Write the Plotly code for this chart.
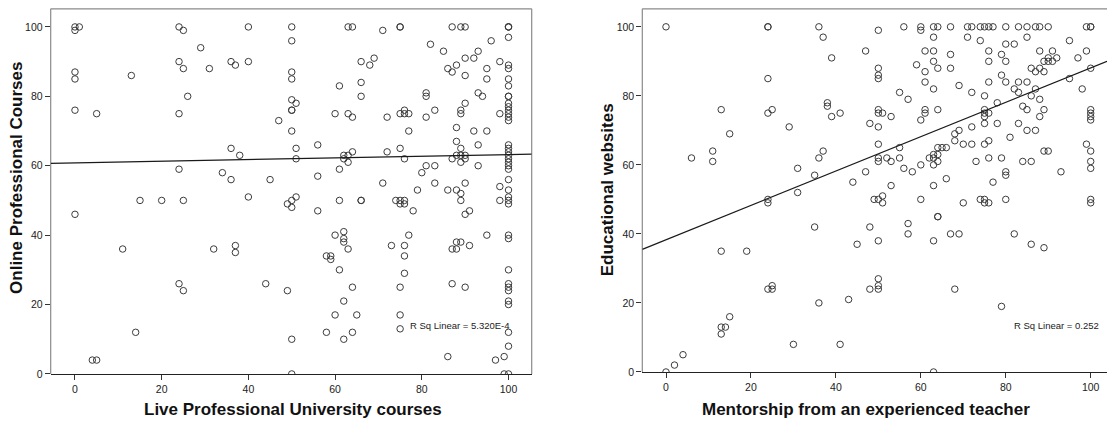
import plotly.graph_objects as go

# ---- Left panel: Live Professional University courses vs Online Professional Courses
live_courses = (
    [0, 0, 1, 0, 0, 0, 0, 5, 13, 24, 25, 29, 24, 25, 31, 26, 24, 36, 37, 40, 40, 47, 36, 38, 24, 34, 36, 45,
     15, 20, 25, 40, 49, 11, 32, 37, 37, 24, 25, 44, 49, 14, 4, 5, 50]
    + [50, 50, 50, 50, 50, 50, 50, 50, 51, 51, 51, 50, 51, 50]
    + [56, 56, 61, 61, 61, 60, 62, 63, 64, 62, 63, 63, 64, 63, 64, 66, 68, 69, 66, 66, 66, 66, 71, 75, 75, 72,
       72, 71, 75, 76, 76, 77, 77, 75, 76, 74, 75, 76, 75, 76]
    + [81, 81, 83, 81, 81, 83, 80, 79, 83, 82, 85, 87, 89, 90, 86, 87, 88, 90, 92, 93, 96, 98, 90, 95, 95, 93,
       94, 90, 89, 89, 88, 92, 95, 88, 93, 89, 88, 89, 90, 87, 89, 90, 93, 86, 88, 89, 90, 89, 98, 98, 98]
    + [100] * 40
    + [56, 78, 90, 91, 62, 60, 62, 62, 63, 58, 59, 59, 61, 64, 62, 60, 65, 58, 64, 62, 50, 77, 73, 76, 76, 76,
       75, 75, 75, 88, 89, 87, 88, 91, 95, 87, 90, 86, 97, 99, 99]
)
online_courses = (
    [100, 99, 100, 87, 85, 76, 46, 75, 86, 100, 99, 94, 90, 88, 88, 80, 75, 90, 89, 100, 90, 73, 65, 63, 59, 58,
     56, 56, 50, 50, 50, 51, 49, 36, 36, 37, 35, 26, 24, 26, 24, 12, 4, 4, 10]
    + [100, 96, 87, 85, 79, 76, 76, 70, 78, 65, 62, 50, 51, 48]
    + [66, 57, 83, 59, 50, 75, 63, 63, 64, 62, 61, 75, 74, 100, 100, 90, 89, 91, 84, 80, 50, 50, 99, 100, 100,
       74, 64, 55, 75, 76, 75, 75, 70, 65, 62, 50, 50, 50, 49, 49]
    + [81, 80, 76, 74, 60, 60, 58, 53, 55, 95, 93, 100, 100, 100, 88, 87, 89, 91, 91, 93, 96, 90, 86, 88, 85, 81,
       80, 78, 76, 75, 71, 70, 70, 67, 66, 65, 63, 63, 63, 62, 61, 62, 60, 53, 53, 52, 55, 50, 75, 54, 50]
    + [100, 100, 100, 97, 89, 88, 85, 83, 80, 80, 78, 77, 76, 75, 74, 73, 66, 65, 64, 63, 62, 61, 60, 59, 56, 53,
       51, 50, 49, 40, 39, 30, 26, 25, 24, 21, 20, 12, 8, 0]
    + [47, 47, 46, 47, 41, 40, 39, 38, 36, 34, 34, 33, 30, 25, 21, 17, 17, 12, 12, 10, 0, 40, 37, 37, 34, 29,
       25, 17, 13, 38, 38, 36, 36, 37, 40, 26, 25, 5, 4, 5, 0]
)
left_fit = (60.83, 0.0239)          # intercept, slope of the linear fit
left_rsq = "R Sq Linear = 5.320E-4"

# ---- Right panel: Mentorship from an experienced teacher vs Educational websites
mentorship = (
    [0, 6, 11, 11, 13, 15, 24, 24, 24, 24, 25, 29, 24, 24, 31, 31, 35, 36, 37, 39, 38, 38, 39, 41, 37, 36, 13,
     19, 35, 24, 25, 25, 36, 43, 15, 13, 14, 13, 30, 41, 4, 2, 0]
    + [50, 56, 60, 60, 63, 64, 67, 71, 72, 63, 71, 47, 61, 63, 67, 63, 59, 61, 64, 67, 50, 50, 50, 61, 69, 63,
       72, 55, 57, 50, 50, 51, 53, 61, 61, 64]
    + [74, 75, 76, 77, 80, 83, 85, 87, 88, 90, 99, 100, 100, 74, 85, 95, 80, 82, 76, 88, 91, 99, 79, 76, 80, 89,
       90, 91, 90, 92, 97, 86, 88, 87, 89, 79, 76, 80, 83, 85, 82, 87, 98, 83, 75, 86, 88, 78, 84, 85, 75, 75,
       76, 89, 100, 100, 100, 88, 100, 95]
    + [60, 48, 50, 68, 69, 68, 72, 70, 72, 50, 55, 64, 65, 66, 50, 50, 52, 53, 55, 62, 63, 63, 64, 64, 63, 60,
       56, 58, 47, 44, 53, 63, 66, 49, 50, 51, 51, 60, 70]
    + [75, 100, 75, 78, 83, 85, 87, 81, 75, 76, 89, 90, 99, 100, 73, 76, 79, 84, 86, 100, 100, 80, 80, 93, 77,
       74, 75, 75, 76, 80, 100, 100]
    + [57, 64, 64, 48, 57, 67, 69, 82, 50, 63, 45, 86, 89, 50, 48, 50, 50, 68, 79, 63]
)
educational_websites = (
    [100, 62, 64, 61, 76, 69, 100, 100, 85, 75, 76, 71, 50, 49, 59, 52, 57, 100, 97, 91, 78, 77, 74, 75, 64, 62,
     35, 35, 42, 24, 25, 24, 20, 21, 16, 13, 13, 11, 8, 8, 5, 2, 0]
    + [99, 100, 100, 99, 100, 100, 100, 100, 100, 97, 97, 93, 93, 93, 92, 90, 89, 87, 88, 88, 88, 86, 85, 84, 83,
       82, 81, 81, 79, 76, 75, 75, 74, 76, 75, 76]
    + [100, 100, 100, 100, 100, 100, 100, 100, 100, 100, 100, 100, 100, 96, 97, 96, 95, 95, 93, 93, 93, 93, 92,
       90, 90, 90, 90, 90, 91, 91, 91, 88, 88, 87, 87, 86, 84, 84, 84, 84, 82, 82, 82, 81, 80, 80, 79, 78, 77,
       76, 76, 75, 75, 76, 76, 75, 74, 74, 88, 85]
    + [73, 72, 71, 69, 70, 67, 71, 66, 66, 66, 65, 65, 65, 65, 62, 61, 62, 61, 62, 62, 63, 62, 63, 61, 60, 60,
       59, 58, 58, 55, 54, 54, 56, 50, 50, 51, 49, 50, 49]
    + [74, 73, 72, 72, 72, 70, 70, 68, 66, 67, 64, 64, 66, 64, 61, 62, 62, 61, 61, 61, 59, 58, 57, 58, 55, 50,
       50, 49, 49, 50, 50, 49]
    + [43, 45, 45, 42, 40, 40, 40, 40, 38, 38, 37, 37, 36, 27, 24, 25, 24, 24, 19, 0]
)
right_fit = (38.3, 0.498)
right_rsq = "R Sq Linear = 0.252"

tick_vals = [0, 20, 40, 60, 80, 100]

assert len(live_courses) == len(online_courses)
assert len(mentorship) == len(educational_websites)

FONT = "Liberation Sans, Arial, sans-serif"
W, H = 1107, 425

# plot-area geometry (pixels)
L_X0, L_X1 = 50.7, 531.7
R_X0, R_X1 = 642.3, 1107.0
L_YB, R_YB, Y_TOP = 379.3, 377.3, 9.0

left_xrange = [-5.6, 105.35]
left_yrange = [0, 105.2]
right_xrange = [-5.58, 103.84]
right_yrange = [0, 105.2]

marker = dict(symbol="circle", size=6.5, color="rgba(0,0,0,0)",
              line=dict(color="#3c3c3c", width=1))

fig = go.Figure()
fig.add_trace(go.Scatter(x=live_courses, y=online_courses, mode="markers",
                         marker=marker, xaxis="x", yaxis="y", showlegend=False))
fig.add_trace(go.Scatter(x=mentorship, y=educational_websites, mode="markers",
                         marker=marker, xaxis="x2", yaxis="y2", showlegend=False))

# fitted lines across each full x range
for (b0, b1), xr, xa, ya in [(left_fit, left_xrange, "x", "y"),
                             (right_fit, right_xrange, "x2", "y2")]:
    fig.add_trace(go.Scatter(x=xr, y=[b0 + b1 * xr[0], b0 + b1 * xr[1]], mode="lines",
                             line=dict(color="#1a1a1a", width=1.2),
                             xaxis=xa, yaxis=ya, showlegend=False, hoverinfo="skip"))

axis_common = dict(tickvals=tick_vals, ticks="outside", ticklen=5, tickcolor="#333",
                   tickfont=dict(family=FONT, size=10.5, color="#222"),
                   showgrid=False, zeroline=False, fixedrange=True)

fig.update_layout(
    width=W, height=H,
    margin=dict(l=0, r=0, t=0, b=0),
    paper_bgcolor="white", plot_bgcolor="white",
    xaxis=dict(domain=[L_X0 / W, L_X1 / W], range=left_xrange, anchor="y",
               showline=True, linecolor="#222", linewidth=1, **axis_common),
    yaxis=dict(domain=[(H - L_YB) / H, (H - Y_TOP) / H], range=left_yrange, anchor="x",
               showline=False, **axis_common),
    xaxis2=dict(domain=[R_X0 / W, R_X1 / W], range=right_xrange, anchor="y2",
                showline=True, linecolor="#222", linewidth=1, **axis_common),
    yaxis2=dict(domain=[(H - R_YB) / H, (H - Y_TOP) / H], range=right_yrange, anchor="x2",
                showline=False, **axis_common),
)

# gray frame: left, top and right edges of each panel
frame = dict(color="#8a8a8a", width=1.2)
for xd, yd, sides in [("x domain", "y domain", ["l", "t", "r"]),
                      ("x2 domain", "y2 domain", ["l", "t"])]:
    if "l" in sides:
        fig.add_shape(type="line", xref=xd, yref=yd, x0=0, x1=0, y0=0, y1=1, line=frame, layer="below")
    if "t" in sides:
        fig.add_shape(type="line", xref=xd, yref=yd, x0=0, x1=1, y0=1, y1=1, line=frame, layer="below")
    if "r" in sides:
        fig.add_shape(type="line", xref=xd, yref=yd, x0=1, x1=1, y0=0, y1=1, line=frame, layer="below")

# R squared labels
fig.add_annotation(x=76.75, y=14.1, xref="x", yref="y", text=left_rsq, showarrow=False,
                   xanchor="left", yanchor="middle", font=dict(family=FONT, size=9.5, color="#222"))
fig.add_annotation(x=81.5, y=13.5, xref="x2", yref="y2", text=right_rsq, showarrow=False,
                   xanchor="left", yanchor="middle", font=dict(family=FONT, size=9.5, color="#222"))

# axis titles
title_font = dict(family=FONT, size=17, color="#111")
fig.add_annotation(x=292.5 / W, y=(H - 415.5) / H, xref="paper", yref="paper",
                   text="<b>Live Professional University courses</b>", showarrow=False,
                   xanchor="center", yanchor="middle", font=title_font)
fig.add_annotation(x=16.5 / W, y=(H - 181) / H, xref="paper", yref="paper",
                   text="<b>Online Professional Courses</b>", showarrow=False, textangle=-90,
                   xanchor="center", yanchor="middle", font=title_font)
fig.add_annotation(x=866 / W, y=(H - 415.5) / H, xref="paper", yref="paper",
                   text="<b>Mentorship from an experienced teacher</b>", showarrow=False,
                   xanchor="center", yanchor="middle", font=title_font)
fig.add_annotation(x=607 / W, y=(H - 193) / H, xref="paper", yref="paper",
                   text="<b>Educational websites</b>", showarrow=False, textangle=-90,
                   xanchor="center", yanchor="middle", font=title_font)

fig.write_html("out.html", config={"displayModeBar": False})
